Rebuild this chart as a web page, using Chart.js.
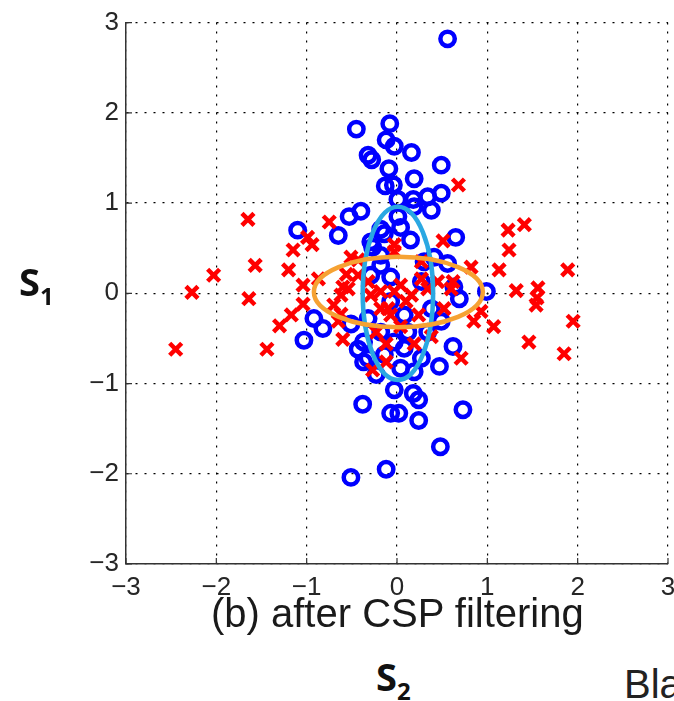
<!DOCTYPE html>
<html>
<head>
<meta charset="utf-8">
<script src="https://cdn.jsdelivr.net/npm/chart.js@4.4.1/dist/chart.umd.min.js"></script>
<style>
  html, body { margin: 0; padding: 0; background: #fff; overflow: hidden; width: 674px; height: 701px; }
  .wrap { position: relative; width: 674px; height: 701px; overflow: hidden; }
  #scatterChart { position: absolute; left: 0; top: 0; }
  .lbl { position: absolute; font-family: "Liberation Sans Narrow", "Liberation Sans", Arial, sans-serif; color: #1a1a1a; white-space: nowrap; }
  .caption { left: 211px; top: 590px; height: 46px; overflow: hidden; font-size: 40px; line-height: 46px; }
  .sym { font-family: "Open Sans", "Liberation Sans", sans-serif; font-weight: bold; font-size: 38px; color: #111; }
  .sym sub { font-size: 24px; vertical-align: -9px; }
  .bla { font-family: "Liberation Sans", Arial, sans-serif; left: 624px; top: 662px; font-size: 40px; color: #222; }
</style>
</head>
<body>
<div class="wrap">
  <canvas id="scatterChart" width="700" height="640"></canvas>
  <div class="lbl caption">(b) after CSP filtering</div>
  <div class="lbl sym" style="left:19px;top:255px;">S<sub>1</sub></div>
  <div class="lbl sym" style="left:376px;top:650px;">S<sub>2</sub></div>
  <div class="lbl bla">Bla</div>
</div>
<script>
// class 1 (blue circles)
const blueX = [-0.45, -0.08, -0.12, -0.03, 0.16, -0.32, -0.28, 0.49, -0.09, 0.19,
  -0.13, -0.04, 0.56, 0.01, 0.18, 0.34, 0.49, 0.19, 0.38, -0.53,
  -0.40, 0.01, -1.10, -0.65, 0.65, 0.04, 0.15, -0.29, -0.18, -0.18,
  0.41, 0.56, 0.30, -0.07, -0.29, -0.18, 0.63, 0.99, 0.69, 0.38,
  0.49, 0.62, 0.47, 0.27, 0.08, -0.03, -0.14, -0.32, -0.37, -0.18,
  0.12, 0.34, 0.19, 0.04, -1.03, -0.82, -0.92, -0.51, -0.43, -0.37,
  -0.23, -0.03, -0.38, -0.07, 0.02, 0.18, 0.24, 0.24, 0.73, 0.48,
  -0.12, -0.51, -0.32, 0.08, -0.07, 0.27, -0.27, -0.14];
const blueY = [1.82, 1.88, 1.70, 1.63, 1.56, 1.53, 1.48, 1.42, 1.38, 1.27,
  1.19, 1.20, 2.82, 1.04, 1.04, 1.07, 1.11, 0.96, 0.92, 0.85,
  0.91, 0.85, 0.70, 0.64, 0.62, 0.73, 0.59, 0.57, 0.71, 0.42,
  0.40, 0.33, 0.35, 0.18, 0.20, 0.31, 0.07, 0.02, -0.06, -0.17,
  -0.31, -0.59, -0.81, -0.72, -0.61, -0.54, -0.68, -0.72, -0.54, -0.43,
  -0.43, -0.43, -0.87, -0.83, -0.52, -0.39, -0.28, -0.34, -0.62, -0.76,
  -0.90, -1.07, -1.23, -1.33, -1.33, -1.11, -1.18, -1.41, -1.29, -1.70,
  -1.95, -2.04, -0.28, -0.24, -0.09, 0.13, 0.51, 0.66];

// class 2 (red crosses)
const redX = [-1.65, -1.57, -2.03, -2.27, -1.20, -1.15, -0.99, -0.94, -0.75, -1.04,
  -0.87, -0.51, -0.43, -0.03, 0.68, 1.23, 1.41, 1.24, 1.13, 1.89,
  0.82, 0.51, 1.32, 1.56, 1.55, 1.54, 0.93, 0.85, 1.07, 1.95,
  1.46, 1.85, 0.71, -1.64, -2.45, -1.44, -1.30, -1.17, -1.04, -0.60,
  -0.27, -0.12, -0.12, -0.70, -0.62, -0.65, -0.54, 0.19, 0.62, -0.10,
  -0.29, -0.03, 0.16, 0.34, 0.52, -0.18, 0.24, -0.07, 0.27, -0.03,
  0.27, 0.04, -0.18, 0.45, 0.60, -0.32, -0.43, -0.56, -0.60, -0.62,
  0.10, -0.23, 0.38, 0.04];
const redY = [0.82, 0.31, 0.20, 0.01, 0.26, 0.48, 0.62, 0.54, 0.79, 0.09,
  0.16, 0.40, 0.20, 0.54, 1.20, 0.70, 0.76, 0.48, 0.26, 0.26,
  0.29, 0.58, 0.03, 0.06, -0.05, -0.13, -0.20, -0.31, -0.37, -0.31,
  -0.54, -0.67, -0.72, -0.06, -0.62, -0.62, -0.36, -0.24, -0.12, -0.51,
  -0.85, -0.76, -0.56, -0.13, -0.23, -0.31, 0.05, -0.56, 0.13, -0.17,
  -0.02, 0.02, -0.02, 0.05, -0.17, -0.17, -0.24, -0.24, 0.35, 0.46,
  0.16, 0.09, 0.02, 0.13, 0.05, 0.13, 0.37, 0.21, 0.07, -0.02,
  -0.09, -0.43, -0.48, -0.37];

// covariance ellipses: [centerX, centerY, radiusX, radiusY]
const blueEllipse = [0.01, 0.0, 0.39, 0.96];
const orangeEllipse = [0.015, 0.015, 0.935, 0.39];

const axisTicks = [-3, -2, -1, 0, 1, 2, 3];

const toPoints = function (xs, ys) {
  return xs.map(function (x, i) { return { x: x, y: ys[i] }; });
};

const fmt = function (v) {
  return v < 0 ? "\u2212" + Math.abs(v) : String(v);
};

const ellipsePlugin = {
  id: "ellipses",
  afterDatasetsDraw: function (chart) {
    const ctx = chart.ctx;
    const xs = chart.scales.x;
    const ys = chart.scales.y;
    const drawOne = function (e, color) {
      const cx = xs.getPixelForValue(e[0]);
      const cy = ys.getPixelForValue(e[1]);
      const rx = Math.abs(xs.getPixelForValue(e[0] + e[2]) - cx);
      const ry = Math.abs(ys.getPixelForValue(e[1] + e[3]) - cy);
      ctx.save();
      ctx.beginPath();
      ctx.ellipse(cx, cy, rx, ry, 0, 0, Math.PI * 2);
      ctx.lineWidth = 4.5;
      ctx.strokeStyle = color;
      ctx.stroke();
      ctx.restore();
    };
    drawOne(blueEllipse, "#2aa8e2");
    drawOne(orangeEllipse, "#f6a233");
  }
};

// matlab style inward tick marks on left and bottom axes
const inwardTicks = {
  id: "inwardTicks",
  afterDraw: function (chart) {
    const ctx = chart.ctx;
    const area = chart.chartArea;
    ctx.save();
    ctx.strokeStyle = "#333";
    ctx.lineWidth = 1.2;
    ctx.beginPath();
    axisTicks.forEach(function (t) {
      const px = chart.scales.x.getPixelForValue(t);
      ctx.moveTo(px, area.bottom);
      ctx.lineTo(px, area.bottom - 6);
      const py = chart.scales.y.getPixelForValue(t);
      ctx.moveTo(area.left, py);
      ctx.lineTo(area.left + 6, py);
    });
    ctx.stroke();
    ctx.restore();
  }
};

const drawChart = function () {
  const ctx = document.getElementById("scatterChart").getContext("2d");
  const tickFont = { family: "'Liberation Sans Narrow', 'Liberation Sans', Arial, sans-serif", size: 26 };
  const config = {
    type: "scatter",
    data: {
      datasets: [
        {
          label: "class 2",
          data: toPoints(redX, redY),
          pointStyle: "crossRot",
          pointRadius: 8.5,
          borderWidth: 4.5,
          borderColor: "#ff0000",
          backgroundColor: "#ff0000",
          order: 1
        },
        {
          label: "class 1",
          data: toPoints(blueX, blueY),
          pointStyle: "circle",
          pointRadius: 7.2,
          borderWidth: 4.5,
          borderColor: "#0000ff",
          backgroundColor: "rgba(0,0,0,0)",
          order: 2
        }
      ]
    },
    options: {
      responsive: false,
      animation: false,
      layout: { padding: { left: 0, top: 20, right: 32, bottom: 0 } },
      scales: {
        x: {
          type: "linear",
          min: -3,
          max: 3,
          afterBuildTicks: function (scale) {
            scale.ticks = axisTicks.map(function (v) { return { value: v }; });
          },
          afterFit: function (scale) { scale.height = 76; },
          ticks: { color: "#262626", font: tickFont, padding: 8, maxRotation: 0, callback: fmt },
          grid: { color: "#000", lineWidth: 1.2, drawTicks: false },
          border: { display: true, color: "#333", width: 1.5, dash: [2, 7] }
        },
        y: {
          type: "linear",
          min: -3,
          max: 3,
          afterBuildTicks: function (scale) {
            scale.ticks = axisTicks.map(function (v) { return { value: v }; });
          },
          afterFit: function (scale) { scale.width = 126; },
          ticks: { color: "#262626", font: tickFont, padding: 7, callback: fmt },
          grid: { color: "#000", lineWidth: 1.2, drawTicks: false },
          border: { display: true, color: "#333", width: 1.5, dash: [2, 7] }
        }
      },
      plugins: {
        legend: { display: false },
        title: { display: false },
        tooltip: { enabled: false }
      }
    },
    plugins: [ellipsePlugin, inwardTicks]
  };
  new Chart(ctx, config);
};

document.addEventListener("DOMContentLoaded", function () {
  drawChart();
});
</script>
</body>
</html>
